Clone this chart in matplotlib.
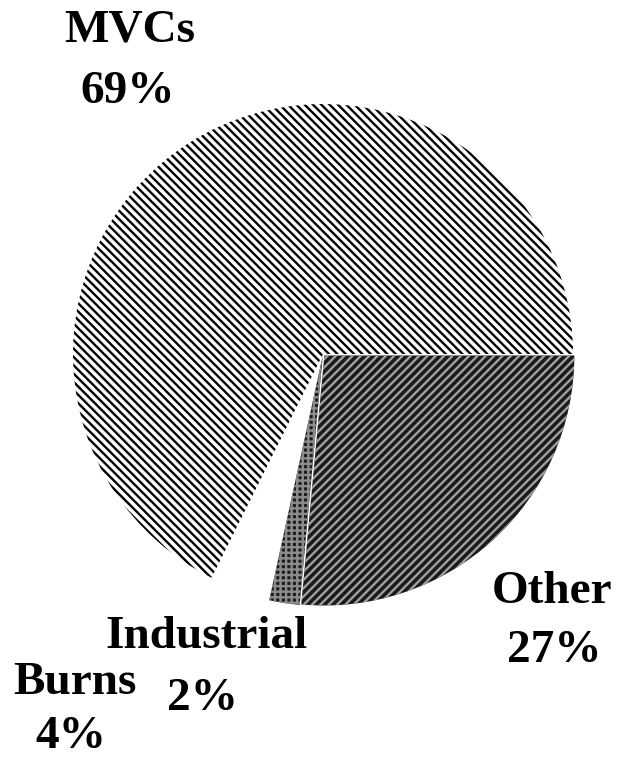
import matplotlib
matplotlib.use('Agg')
import matplotlib.pyplot as plt

# data (order drawn clockwise from 3 o'clock)
labels = ['Other', 'Industrial', 'Burns', 'MVCs']
shares = [27, 2, 4, 69]
face_colors = ['#1a1a1a', '#1e1e1e', 'none', 'white']
hatch_colors = ['#a0a0a0', '#8c8c8c', 'none', 'black']
hatches = ['/' * 4, '+' * 3, '', '\\' * 4]
explode = [0.008, 0.008, 0.0, 0.0]

plt.rcParams['hatch.linewidth'] = 1.7

fig = plt.figure(figsize=(6.19, 7.6), dpi=100)
fig.patch.set_facecolor('white')

# pie centre ~ (323, 354) px, radius ~ 250 px
ax = fig.add_axes([73 / 619, (760 - 354 - 250) / 760, 500 / 619, 500 / 760])
wedges, _ = ax.pie(shares, startangle=0, counterclock=False, explode=explode,
                   colors=['white'] * len(shares), radius=1.0,
                   wedgeprops=dict(linewidth=0))
for w, fc, hc, h in zip(wedges, face_colors, hatch_colors, hatches):
    if fc == 'none':
        w.set_visible(False)
        continue
    w.set_facecolor(fc)
    w.set_edgecolor(hc)
    w.set_linewidth(0)
    w.set_hatch(h)
ax.set_xlim(-1, 1)
ax.set_ylim(-1, 1)
ax.set_aspect('equal')
ax.axis('off')

font = dict(family='Liberation Serif', fontweight='bold', fontsize=34,
            ha='center', va='baseline')

# label positions in pixels: (x name, baseline name, x value, baseline value)
pos = {
    'MVCs': (130, 42, 128, 103),
    'Other': (552, 603, 554, 662),
    'Industrial': (206, 648, 202, 710),
    'Burns': (75, 694, 71, 748),
}
for lab, val in zip(labels, shares):
    x1, y1, x2, y2 = pos[lab]
    fig.text(x1 / 619, 1 - y1 / 760, lab, **font)
    fig.text(x2 / 619, 1 - y2 / 760, f'{val}%', **font)

fig.savefig('out.png', dpi=100, facecolor='white')
